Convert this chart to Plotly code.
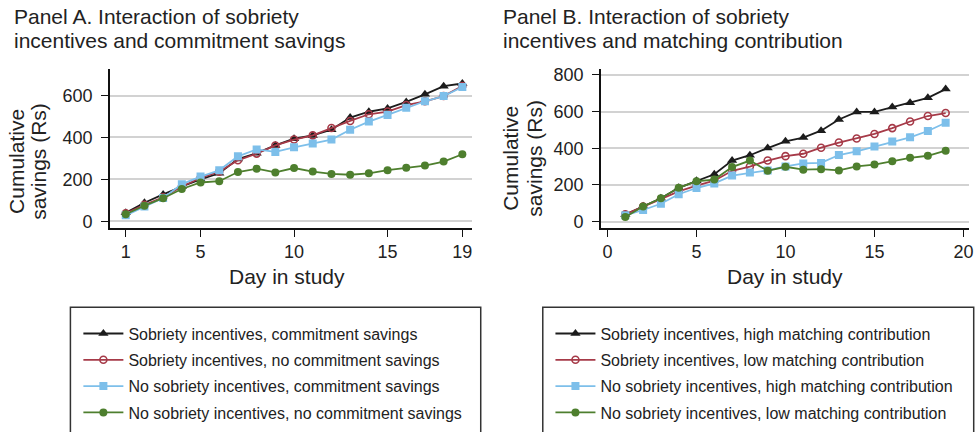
import plotly.graph_objects as go

W, H = 980, 432

days = list(range(1, 20))

# Panel A: Interaction of sobriety incentives and commitment savings
a_names = [
    "Sobriety incentives, commitment savings",
    "Sobriety incentives, no commitment savings",
    "No sobriety incentives, commitment savings",
    "No sobriety incentives, no commitment savings",
]
a_sob_commit = [40, 88, 128, 166, 200, 229, 297, 325, 362, 394, 410, 437, 495, 523, 539, 570, 606, 645, 658]
a_sob_nocommit = [38, 78, 114, 166, 207, 237, 291, 323, 362, 390, 410, 445, 479, 511, 524, 555, 573, 598, 646]
a_nosob_commit = [28, 70, 111, 177, 213, 243, 310, 343, 331, 353, 371, 390, 437, 476, 508, 542, 573, 598, 641]
a_nosob_nocommit = [33, 74, 110, 154, 185, 191, 235, 251, 233, 254, 237, 226, 222, 229, 244, 255, 266, 285, 320]

# Panel B: Interaction of sobriety incentives and matching contribution
b_names = [
    "Sobriety incentives, high matching contribution",
    "Sobriety incentives, low matching contribution",
    "No sobriety incentives, high matching contribution",
    "No sobriety incentives, low matching contribution",
]
b_sob_high = [38, 84, 127, 184, 222, 258, 333, 362, 401, 438, 458, 496, 557, 598, 598, 625, 648, 675, 723]
b_sob_low = [39, 82, 122, 165, 196, 223, 277, 300, 333, 357, 370, 403, 431, 453, 478, 510, 546, 576, 592]
b_nosob_high = [34, 63, 97, 149, 183, 208, 251, 267, 279, 301, 317, 320, 363, 383, 410, 437, 460, 494, 539]
b_nosob_low = [25, 82, 127, 184, 220, 229, 297, 333, 277, 299, 283, 286, 279, 301, 311, 329, 348, 359, 387]

a_yticks = [0, 200, 400, 600]
b_yticks = [0, 200, 400, 600, 800]
a_xticks = [1, 5, 10, 15, 19]
b_xticks = [0, 5, 10, 15, 20]

colors = ["#1c1c1c", "#a63a48", "#7dbfea", "#4e7f2e"]
symbols = ["triangle-up", "circle-open", "square", "circle"]
msizes = [9, 7, 8, 8]

FONT = "Liberation Sans, Arial, sans-serif"
TXT = "#222222"


def px_x(p):
    return p / W


def px_y(p):
    return 1 - p / H


fig = go.Figure()

series_a = [a_sob_commit, a_sob_nocommit, a_nosob_commit, a_nosob_nocommit]
series_b = [b_sob_high, b_sob_low, b_nosob_high, b_nosob_low]

for i, (name, vals) in enumerate(zip(a_names, series_a)):
    fig.add_trace(go.Scatter(
        x=days, y=vals, name=name, mode="lines+markers",
        line=dict(color=colors[i], width=1.8),
        marker=dict(symbol=symbols[i], size=msizes[i], color=colors[i],
                    line=dict(color=colors[i], width=1.6 if i == 1 else 0)),
        xaxis="x", yaxis="y", legend="legend", legendgroup="a%d" % i,
    ))

for i, (name, vals) in enumerate(zip(b_names, series_b)):
    fig.add_trace(go.Scatter(
        x=days, y=vals, name=name, mode="lines+markers",
        line=dict(color=colors[i], width=1.8),
        marker=dict(symbol=symbols[i], size=msizes[i], color=colors[i],
                    line=dict(color=colors[i], width=1.6 if i == 1 else 0)),
        xaxis="x2", yaxis="y2", legend="legend2", legendgroup="b%d" % i,
    ))

axis_common = dict(
    showline=True, linecolor="#111111", linewidth=1.5,
    ticks="outside", ticklen=7, tickwidth=1.3, tickcolor="#111111",
    tickfont=dict(family=FONT, size=18, color=TXT),
    zeroline=False,
)

fig.update_layout(
    width=W, height=H,
    margin=dict(l=0, r=0, t=0, b=0),
    paper_bgcolor="white", plot_bgcolor="white",
    font=dict(family=FONT, color=TXT),
    xaxis=dict(domain=[px_x(110.3), px_x(474)], range=[0.15, 19.52],
               tickvals=a_xticks, showgrid=False, anchor="y", **axis_common),
    yaxis=dict(domain=[px_y(228), px_y(66.7)], range=[-31.4, 725],
               tickvals=a_yticks, showgrid=True, gridcolor="#d2d2d2", gridwidth=1.5,
               anchor="x", ticklabelstandoff=5, **axis_common),
    xaxis2=dict(domain=[px_x(603.3), px_x(973.3)], range=[-0.375, 20.33],
                tickvals=b_xticks, showgrid=False, anchor="y2", **axis_common),
    yaxis2=dict(domain=[px_y(228.3), px_y(66.7)], range=[-35.6, 830],
                tickvals=b_yticks, showgrid=True, gridcolor="#d2d2d2", gridwidth=1.5,
                anchor="x2", ticklabelstandoff=5, **axis_common),
    legend=dict(x=px_x(78.7), y=px_y(318.5), xanchor="left", yanchor="top",
                bgcolor="rgba(0,0,0,0)", borderwidth=0, itemwidth=40,
                tracegroupgap=2.5, font=dict(family=FONT, size=16, color=TXT),
                itemclick=False),
    legend2=dict(x=px_x(552.7), y=px_y(318.5), xanchor="left", yanchor="top",
                 bgcolor="rgba(0,0,0,0)", borderwidth=0, itemwidth=40,
                 tracegroupgap=2.5, font=dict(family=FONT, size=16, color=TXT),
                 itemclick=False),
    showlegend=True,
)

# legend frames
for x0, x1 in [(70.7, 482.7), (545, 977.7)]:
    fig.add_shape(type="rect", xref="paper", yref="paper",
                  x0=px_x(x0), x1=px_x(x1), y0=px_y(309), y1=px_y(445),
                  line=dict(color="#333333", width=1.5), fillcolor="rgba(0,0,0,0)")

annots = []
# Panel titles
for x0, lines in [(12, ["Panel A. Interaction of sobriety", "incentives and commitment savings"]),
                  (503.3, ["Panel B. Interaction of sobriety", "incentives and matching contribution"])]:
    for ln, yc in zip(lines, [13.0, 37.0]):
        annots.append(dict(text=ln, x=px_x(x0), y=px_y(yc), xref="paper", yref="paper",
                           xanchor="left", yanchor="middle", showarrow=False,
                           font=dict(family=FONT, size=21, color=TXT)))
# x-axis titles
for xc in [288.3, 788.7]:
    annots.append(dict(text="Day in study", x=px_x(xc), y=px_y(278), xref="paper", yref="paper",
                       xanchor="center", yanchor="middle", showarrow=False,
                       font=dict(family=FONT, size=21, color=TXT)))
# y-axis titles
for (x1, x2, yc) in [(16.5, 38.5, 160.5), (512.5, 536.5, 157.3)]:
    for txt, xc in [("Cumulative", x1), ("savings (Rs)", x2)]:
        annots.append(dict(text=txt, x=px_x(xc), y=px_y(yc), xref="paper", yref="paper",
                           xanchor="center", yanchor="middle", textangle=-90, showarrow=False,
                           font=dict(family=FONT, size=21, color=TXT)))

fig.update_layout(annotations=annots)

fig.write_html("out.html", config={"displayModeBar": False},
               post_script="document.body.style.margin='0px';document.body.style.overflow='hidden';")
